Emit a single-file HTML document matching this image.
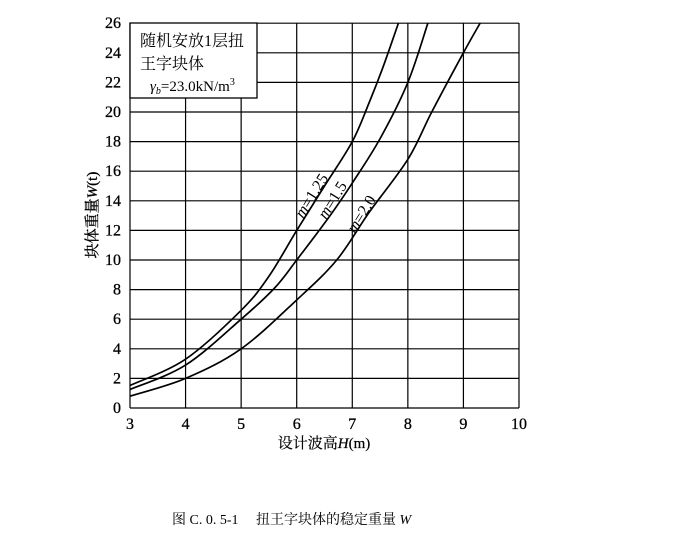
<!DOCTYPE html>
<html><head><meta charset="utf-8"><style>
body{margin:0;background:#fff;}
svg{display:block;font-family:"Liberation Serif","Noto Serif CJK SC",serif;}
</style></head><body>
<svg id="s" width="674" height="551" viewBox="0 0 674 551" xmlns="http://www.w3.org/2000/svg">
<g id="grid" stroke="#000" stroke-width="1.2" fill="none"></g>
<rect x="130" y="23" width="127" height="75" fill="#fff" stroke="#000" stroke-width="1.3"/>
<text x="140" y="46" font-size="16">随机安放1层扭</text>
<text x="140" y="69" font-size="16">王字块体</text>
<text x="150" y="91" font-size="15"><tspan font-style="italic">γ</tspan><tspan font-size="10" dy="3" font-style="italic">b</tspan><tspan dy="-3">=23.0kN/m</tspan><tspan font-size="10" dy="-6">3</tspan></text>
<g id="curves" stroke="#000" stroke-width="1.7" fill="none"></g>
<g id="ticks" font-size="16" fill="#000" stroke="#000" stroke-width="0.3"></g>
<text transform="translate(303,219) rotate(-58)" font-size="16"><tspan font-style="italic">m</tspan>=1.25</text>
<text transform="translate(326,220) rotate(-58)" font-size="16"><tspan font-style="italic">m</tspan>=1.5</text>
<text transform="translate(355,234) rotate(-58)" font-size="16"><tspan font-style="italic">m</tspan>=2.0</text>
<text x="324" y="448" font-size="15" text-anchor="middle" stroke="#000" stroke-width="0.2">设计波高<tspan font-style="italic">H</tspan>(m)</text>
<text transform="translate(97,215) rotate(-90)" font-size="15" text-anchor="middle" stroke="#000" stroke-width="0.3">块体重量<tspan font-style="italic">W</tspan>(t)</text>
<text x="172" y="524" font-size="14">图 C. 0. 5-1　 扭王字块体的稳定重量 <tspan font-style="italic">W</tspan></text>
</svg>
<script>
var X=function(h){return 130+(h-3)*55.57},Y=function(w){return 408-w*14.8};
var g=document.getElementById('grid'),t=document.getElementById('ticks'),c=document.getElementById('curves');
var s='';
for(var h=3;h<=10;h++){s+='<line x1="'+X(h)+'" y1="23" x2="'+X(h)+'" y2="408"/>';t.innerHTML+='<text x="'+X(h)+'" y="429" text-anchor="middle">'+h+'</text>';}
for(var w=0;w<=26;w+=2){s+='<line x1="130" y1="'+Y(w)+'" x2="519" y2="'+Y(w)+'"/>';t.innerHTML+='<text x="121" y="'+(Y(w)+5)+'" text-anchor="end">'+w+'</text>';}
g.innerHTML=s;
var data=[
[[3,1.52],[4,3.3],[5,6.6],[5.5,8.9],[6,12],[6.5,15],[7,18],[7.3,20.6],[7.55,23],[7.83,26]],
[[3,1.25],[4,2.9],[5,6],[5.6,8.1],[6,10],[6.6,13],[7,15.2],[7.5,18.2],[8,22],[8.36,26]],
[[3,0.8],[4,2],[5,4],[6,7.3],[6.72,10],[7.3,13.2],[8,16.8],[8.43,20],[9,24],[9.3,26]]];
var out='';
data.forEach(function(d){
 var p=d.map(function(q){return [X(q[0]),Y(q[1])]});
 var str='M'+p[0][0]+','+p[0][1];
 for(var i=0;i<p.length-1;i++){
  var p0=p[i-1]||p[i],p1=p[i],p2=p[i+1],p3=p[i+2]||p2;
  str+=' C'+(p1[0]+(p2[0]-p0[0])/6)+','+(p1[1]+(p2[1]-p0[1])/6)+' '+(p2[0]-(p3[0]-p1[0])/6)+','+(p2[1]-(p3[1]-p1[1])/6)+' '+p2[0]+','+p2[1];
 }
 out+='<path d="'+str+'"/>';
});
c.innerHTML=out;
</script>
</body></html>
